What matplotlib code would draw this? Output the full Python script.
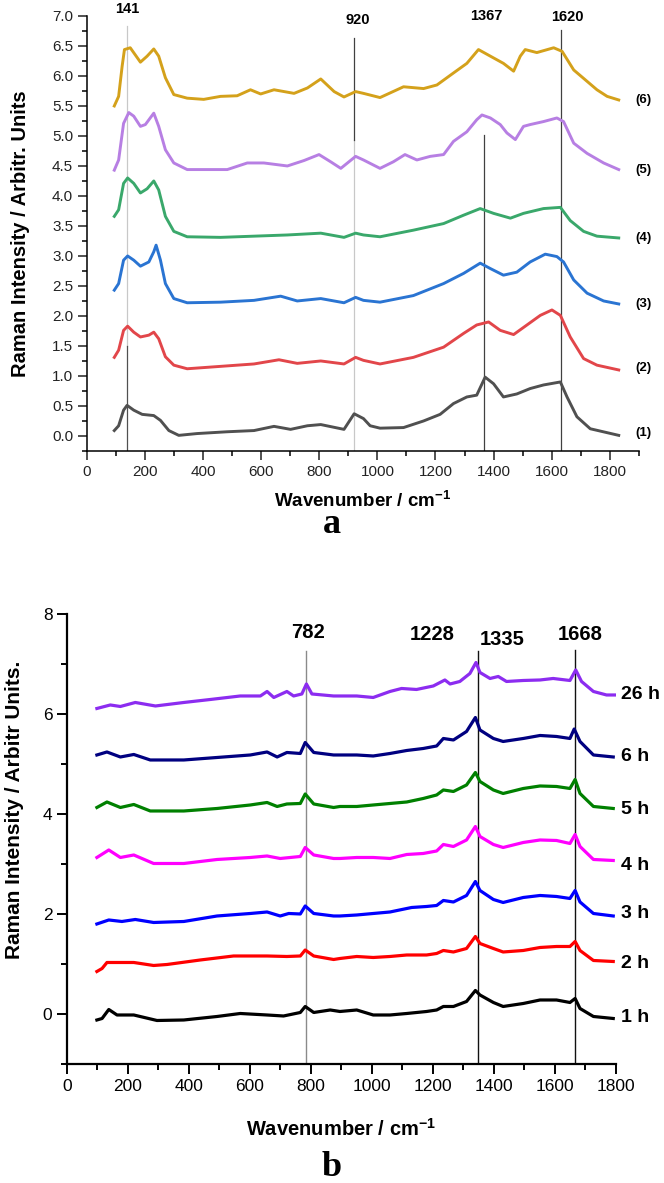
import numpy as np
import matplotlib
matplotlib.use("Agg")
import matplotlib.pyplot as plt
from matplotlib.ticker import MultipleLocator

plt.rcParams['font.family'] = ['Liberation Sans', 'DejaVu Sans']
plt.rcParams['mathtext.fontset'] = 'custom'
plt.rcParams['mathtext.rm'] = 'Liberation Sans'
plt.rcParams['mathtext.bf'] = 'Liberation Sans:bold'

# ---------------- panel a data ----------------
a6_x = [94, 109, 121, 129, 149, 184, 207, 230, 247, 270, 299, 345, 402, 460, 517, 563, 598, 644, 713, 759,
        805, 851, 885, 925, 952, 1009, 1090, 1159, 1205, 1262, 1308, 1348, 1389, 1434, 1469, 1492, 1509,
        1549, 1607, 1636, 1676, 1710, 1756, 1791, 1831]
a6_y = [5.50, 5.66, 6.16, 6.44, 6.47, 6.23, 6.33, 6.45, 6.33, 5.97, 5.69, 5.63, 5.61, 5.66, 5.67, 5.77, 5.70,
        5.77, 5.71, 5.80, 5.95, 5.74, 5.65, 5.74, 5.71, 5.64, 5.82, 5.79, 5.85, 6.05, 6.21, 6.44, 6.33, 6.21,
        6.08, 6.33, 6.44, 6.39, 6.47, 6.41, 6.10, 5.96, 5.77, 5.66, 5.60]

a5_x = [94, 109, 126, 144, 161, 184, 201, 230, 247, 270, 299, 345, 402, 483, 552, 609, 690, 747, 799, 839,
        874, 925, 952, 1009, 1055, 1095, 1136, 1182, 1228, 1262, 1308, 1342, 1360, 1389, 1423, 1446, 1475,
        1503, 1526, 1572, 1618, 1641, 1676, 1722, 1779, 1831]
a5_y = [4.43, 4.60, 5.21, 5.39, 5.33, 5.16, 5.19, 5.38, 5.16, 4.77, 4.55, 4.44, 4.44, 4.44, 4.55, 4.55, 4.50,
        4.59, 4.69, 4.57, 4.46, 4.66, 4.60, 4.46, 4.57, 4.69, 4.60, 4.66, 4.69, 4.91, 5.07, 5.27, 5.35, 5.30,
        5.19, 5.05, 4.94, 5.16, 5.19, 5.24, 5.30, 5.24, 4.88, 4.71, 4.55, 4.44]

a4_x = [94, 109, 126, 140, 161, 184, 207, 230, 247, 270, 299, 345, 460, 575, 690, 805, 885, 925, 952, 1009,
        1124, 1228, 1297, 1354, 1400, 1458, 1503, 1572, 1630, 1664, 1710, 1756, 1831]
a4_y = [3.66, 3.77, 4.21, 4.30, 4.21, 4.05, 4.12, 4.25, 4.10, 3.66, 3.41, 3.32, 3.31, 3.33, 3.35, 3.38, 3.31,
        3.38, 3.35, 3.32, 3.43, 3.54, 3.68, 3.79, 3.71, 3.63, 3.71, 3.79, 3.81, 3.59, 3.41, 3.33, 3.30]

a3_x = [94, 109, 126, 140, 161, 184, 213, 230, 238, 253, 270, 299, 345, 460, 575, 667, 724, 805, 885, 925,
        952, 1009, 1124, 1228, 1297, 1354, 1389, 1434, 1480, 1526, 1578, 1618, 1641, 1676, 1722, 1779, 1831]
a3_y = [2.43, 2.54, 2.93, 3.00, 2.93, 2.83, 2.90, 3.07, 3.18, 2.93, 2.54, 2.29, 2.22, 2.23, 2.26, 2.33, 2.25,
        2.29, 2.22, 2.31, 2.26, 2.23, 2.34, 2.54, 2.71, 2.88, 2.79, 2.68, 2.73, 2.90, 3.03, 2.99, 2.90, 2.60,
        2.38, 2.25, 2.20]

a2_x = [94, 109, 126, 140, 161, 184, 213, 230, 247, 270, 299, 345, 460, 575, 661, 724, 805, 885, 925, 952,
        1009, 1124, 1228, 1297, 1342, 1383, 1423, 1469, 1515, 1561, 1601, 1630, 1664, 1710, 1756, 1831]
a2_y = [1.31, 1.43, 1.76, 1.83, 1.73, 1.65, 1.68, 1.73, 1.62, 1.32, 1.18, 1.12, 1.16, 1.20, 1.27, 1.21, 1.25,
        1.20, 1.31, 1.26, 1.20, 1.31, 1.48, 1.71, 1.85, 1.90, 1.76, 1.69, 1.85, 2.01, 2.10, 2.01, 1.65, 1.29,
        1.18, 1.10]

a1_x = [94, 109, 126, 138, 161, 190, 230, 253, 282, 316, 379, 483, 575, 644, 701, 759, 805, 885, 920, 952,
        975, 1009, 1090, 1159, 1216, 1262, 1308, 1342, 1371, 1400, 1434, 1480, 1526, 1572, 1630, 1653, 1687,
        1733, 1831]
a1_y = [0.09, 0.17, 0.43, 0.51, 0.43, 0.36, 0.34, 0.26, 0.09, 0.01, 0.04, 0.07, 0.09, 0.16, 0.11, 0.17, 0.19,
        0.11, 0.37, 0.29, 0.17, 0.13, 0.14, 0.25, 0.36, 0.54, 0.65, 0.68, 0.98, 0.87, 0.65, 0.70, 0.79, 0.85,
        0.90, 0.65, 0.32, 0.12, 0.01]

a_labels = ['(1)', '(2)', '(3)', '(4)', '(5)', '(6)']
a_label_y = [0.05, 1.13, 2.2, 3.3, 4.44, 5.6]
a_peaks = ['141', '920', '1367', '1620']
a_peak_text_x = [138, 934, 1376, 1655]
a_peak_text_y = [7.11, 6.94, 7.0, 6.98]

# ---------------- panel b data ----------------
b26_x = [98, 142, 175, 224, 290, 383, 470, 568, 634, 656, 678, 721, 743, 770, 785, 803, 874, 895, 950, 1004,
         1059, 1097, 1146, 1201, 1239, 1256, 1288, 1321, 1341, 1354, 1387, 1414, 1441, 1496, 1551, 1594, 1649,
         1668, 1687, 1726, 1769, 1802]
b26_y = [6.11, 6.18, 6.15, 6.23, 6.16, 6.23, 6.29, 6.36, 6.36, 6.45, 6.33, 6.45, 6.36, 6.40, 6.60, 6.40, 6.36,
         6.36, 6.36, 6.33, 6.45, 6.51, 6.49, 6.56, 6.68, 6.60, 6.65, 6.81, 7.03, 6.83, 6.71, 6.75, 6.65, 6.67,
         6.68, 6.71, 6.67, 6.88, 6.65, 6.45, 6.38, 6.38]

b6_x = [98, 131, 175, 219, 273, 383, 492, 601, 656, 689, 721, 765, 781, 809, 874, 895, 950, 1004, 1059, 1114,
        1168, 1212, 1234, 1267, 1310, 1339, 1354, 1398, 1430, 1496, 1551, 1605, 1649, 1663, 1682, 1726, 1791]
b6_y = [5.18, 5.24, 5.14, 5.19, 5.08, 5.08, 5.13, 5.18, 5.24, 5.14, 5.23, 5.21, 5.43, 5.23, 5.18, 5.18, 5.18,
        5.16, 5.21, 5.27, 5.31, 5.36, 5.51, 5.48, 5.65, 5.93, 5.68, 5.51, 5.45, 5.51, 5.57, 5.55, 5.51, 5.70,
        5.45, 5.18, 5.14]

b5_x = [98, 131, 175, 219, 273, 383, 492, 601, 656, 689, 721, 765, 781, 809, 874, 895, 950, 1004, 1059, 1114,
        1168, 1212, 1234, 1267, 1310, 1339, 1354, 1398, 1430, 1496, 1551, 1605, 1649, 1666, 1682, 1726, 1791]
b5_y = [4.13, 4.24, 4.13, 4.19, 4.06, 4.06, 4.11, 4.18, 4.23, 4.15, 4.20, 4.21, 4.40, 4.20, 4.13, 4.15, 4.15,
        4.18, 4.21, 4.24, 4.31, 4.38, 4.48, 4.45, 4.58, 4.83, 4.65, 4.48, 4.41, 4.51, 4.56, 4.55, 4.51, 4.69,
        4.41, 4.15, 4.11]

b4_x = [98, 137, 175, 219, 284, 383, 492, 601, 656, 699, 765, 781, 809, 874, 895, 950, 1004, 1059, 1114, 1168,
        1212, 1234, 1267, 1310, 1339, 1354, 1398, 1430, 1496, 1551, 1605, 1649, 1666, 1682, 1726, 1791]
b4_y = [3.13, 3.28, 3.13, 3.18, 3.01, 3.01, 3.09, 3.13, 3.16, 3.11, 3.15, 3.33, 3.18, 3.11, 3.11, 3.13, 3.13,
        3.11, 3.19, 3.21, 3.26, 3.39, 3.35, 3.48, 3.75, 3.55, 3.39, 3.33, 3.43, 3.48, 3.47, 3.41, 3.59, 3.35,
        3.09, 3.07]

b3_x = [98, 137, 180, 224, 284, 383, 492, 601, 656, 699, 727, 765, 781, 809, 874, 895, 950, 1004, 1059, 1130,
        1179, 1212, 1234, 1267, 1310, 1339, 1354, 1398, 1430, 1496, 1551, 1605, 1649, 1666, 1682, 1726, 1791]
b3_y = [1.80, 1.88, 1.85, 1.89, 1.83, 1.85, 1.96, 2.01, 2.04, 1.96, 2.01, 2.00, 2.16, 2.01, 1.96, 1.96, 1.98,
        2.01, 2.04, 2.13, 2.15, 2.17, 2.27, 2.24, 2.37, 2.65, 2.47, 2.29, 2.23, 2.33, 2.37, 2.35, 2.31, 2.47,
        2.24, 2.01, 1.96]

b2_x = [98, 115, 131, 175, 219, 284, 328, 437, 546, 656, 721, 765, 781, 809, 874, 895, 950, 1004, 1059, 1114,
        1179, 1212, 1234, 1267, 1310, 1339, 1354, 1398, 1430, 1496, 1551, 1605, 1649, 1666, 1682, 1726, 1791]
b2_y = [0.85, 0.91, 1.03, 1.03, 1.03, 0.97, 0.99, 1.08, 1.16, 1.16, 1.15, 1.16, 1.28, 1.16, 1.09, 1.11, 1.15,
        1.13, 1.15, 1.18, 1.18, 1.21, 1.27, 1.24, 1.31, 1.55, 1.41, 1.31, 1.24, 1.27, 1.33, 1.35, 1.35, 1.45,
        1.27, 1.07, 1.05]

b1_x = [98, 115, 137, 164, 219, 295, 383, 492, 568, 656, 710, 765, 781, 809, 863, 895, 950, 1004, 1059, 1114,
        1179, 1212, 1234, 1267, 1310, 1339, 1354, 1398, 1430, 1496, 1551, 1605, 1649, 1666, 1682, 1726, 1791]
b1_y = [-0.12, -0.09, 0.09, -0.02, -0.02, -0.13, -0.12, -0.05, 0.01, -0.02, -0.04, 0.03, 0.15, 0.03, 0.08,
        0.05, 0.08, -0.02, -0.02, 0.01, 0.05, 0.08, 0.15, 0.15, 0.25, 0.47, 0.38, 0.23, 0.15, 0.21, 0.28, 0.28,
        0.23, 0.31, 0.11, -0.05, -0.09]

b_labels = ['1 h', '2 h', '3 h', '4 h', '5 h', '6 h', '26 h']
b_label_y = [-0.08, 1.0, 2.0, 2.96, 4.08, 5.14, 6.38]
b_peaks = ['782', '1228', '1335', '1668']
b_peak_text_x = [790, 1197, 1426, 1682]
b_peak_text_y = [7.62, 7.58, 7.48, 7.58]

fig = plt.figure(figsize=(6.64, 11.83), dpi=100)

# ================= panel a =================
ax = fig.add_axes([0.131, 0.6188, 0.831, 0.3677])
lw = 0.9
# reference lines
ax.plot([138, 138], [1.5, 6.83], color='#c8c8c8', lw=lw, zorder=1)
ax.plot([138, 138], [-0.25, 1.5], color='#505050', lw=lw, zorder=1)
ax.plot([918, 918], [-0.25, 4.93], color='#c8c8c8', lw=lw, zorder=1)
ax.plot([918, 918], [4.93, 6.63], color='#404040', lw=lw, zorder=1)
ax.plot([1368, 1368], [-0.25, 5.02], color='#404040', lw=lw, zorder=1)
ax.plot([1632, 1632], [-0.25, 6.77], color='#404040', lw=lw, zorder=1)

a_series = [(a1_x, a1_y, '#505050'), (a2_x, a2_y, '#e2464a'), (a3_x, a3_y, '#2a74d2'),
            (a4_x, a4_y, '#3aa86b'), (a5_x, a5_y, '#b77fe3'), (a6_x, a6_y, '#d4a11b')]
for xs, ys, c in a_series:
    ax.plot(xs, ys, color=c, lw=2.1, zorder=2)

for t, yv in zip(a_labels, a_label_y):
    ax.text(1890, yv, t, fontsize=9.5, fontweight='bold', va='center', ha='left', clip_on=False)
for t, xv, yv in zip(a_peaks, a_peak_text_x, a_peak_text_y):
    ax.text(xv, yv, t, fontsize=10.5, fontweight='bold', va='center', ha='center', clip_on=False)

ax.set_xlim(0, 1900)
ax.set_ylim(-0.25, 7.0)
ax.set_xticks(np.arange(0, 1801, 200))
ax.xaxis.set_minor_locator(MultipleLocator(100))
ax.set_yticks(np.arange(0, 7.01, 0.5))
ax.set_yticklabels(['%.1f' % v for v in np.arange(0, 7.01, 0.5)])
ax.yaxis.set_minor_locator(MultipleLocator(0.25))
ax.spines['top'].set_visible(False)
ax.spines['right'].set_visible(False)
for s in ['left', 'bottom']:
    ax.spines[s].set_linewidth(1.1)
ax.tick_params(which='major', direction='out', length=6.5, width=1.1, labelsize=11, colors='#222222')
ax.tick_params(which='minor', direction='out', length=3.8, width=1.1)
ax.set_xlabel('Wavenumber / cm$^{\\mathbf{-1}}$', fontsize=13.5, fontweight='bold')
ax.xaxis.set_label_coords(0.5, -0.09)
ax.set_ylabel('Raman Intensity / Arbitr. Units', fontsize=14.5, fontweight='bold')
ax.yaxis.set_label_coords(-0.103, 0.5)

# ================= panel b =================
bx = fig.add_axes([0.1009, 0.1006, 0.8268, 0.3804])
bx.plot([785, 785], [-1, 7.25], color='#8a8a8a', lw=1.0, zorder=1)
bx.plot([1346, 1346], [-1, 7.25], color='#111111', lw=1.0, zorder=1)
bx.plot([1666, 1666], [-1, 7.28], color='#111111', lw=1.0, zorder=1)

b_series = [(b1_x, b1_y, '#000000'), (b2_x, b2_y, '#ff0000'), (b3_x, b3_y, '#0000ff'),
            (b4_x, b4_y, '#ff00ff'), (b5_x, b5_y, '#008000'), (b6_x, b6_y, '#000080'),
            (b26_x, b26_y, '#8c2cf0')]
for xs, ys, c in b_series:
    bx.plot(xs, ys, color=c, lw=2.3, zorder=2)

for t, yv in zip(b_labels, b_label_y):
    bx.text(1818, yv, t, fontsize=14, fontweight='bold', va='center', ha='left', clip_on=False)
for t, xv, yv in zip(b_peaks, b_peak_text_x, b_peak_text_y):
    bx.text(xv, yv, t, fontsize=14.5, fontweight='bold', va='center', ha='center', clip_on=False)

bx.set_xlim(0, 1800)
bx.set_ylim(-1, 8)
bx.set_xticks(np.arange(0, 1801, 200))
bx.xaxis.set_minor_locator(MultipleLocator(100))
bx.set_yticks(np.arange(0, 8.01, 2))
bx.yaxis.set_minor_locator(MultipleLocator(1))
bx.spines['top'].set_visible(False)
bx.spines['right'].set_visible(False)
for s in ['left', 'bottom']:
    bx.spines[s].set_linewidth(1.6)
bx.tick_params(which='major', direction='out', length=7, width=1.4, labelsize=12.5)
bx.tick_params(which='minor', direction='out', length=4.5, width=1.4)
bx.set_xlabel('Wavenumber / cm$^{\\mathbf{-1}}$', fontsize=14.5, fontweight='bold')
bx.xaxis.set_label_coords(0.5, -0.12)
bx.set_ylabel('Raman Intensity / Arbitr Units.', fontsize=15, fontweight='bold')
bx.yaxis.set_label_coords(-0.078, 0.564)

fig.text(0.5, 0.557, 'a', fontsize=26, fontweight='bold', family='Liberation Serif', ha='center', va='center')
fig.text(0.5, 0.0135, 'b', fontsize=26, fontweight='bold', family='Liberation Serif', ha='center', va='center')

fig.savefig('out.png', dpi=100)
